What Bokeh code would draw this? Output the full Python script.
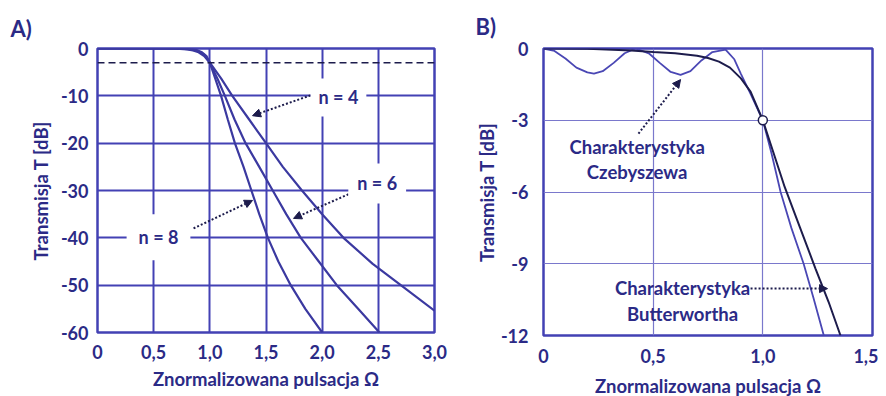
from bokeh.plotting import figure
from bokeh.models import Range1d, Label, Arrow, NormalHead, Span, FixedTicker
from bokeh.layouts import row
from bokeh.embed import file_html
from bokeh.resources import INLINE

# ---------------- data ----------------
# Panel A: Butterworth-type responses
omega_n4 = [0, 0.5, 0.7, 0.8, 0.85, 0.9, 0.95, 1.0, 1.1, 1.2, 1.35, 1.5, 1.65, 1.82, 2.0, 2.19, 2.45, 2.7, 3.0]
db_n4 = [0, 0, -0.05, -0.2, -0.4, -0.8, -1.6, -3, -6.3, -10, -15, -20, -25, -30, -35, -40, -45.5, -50, -55.4]

omega_n6 = [0, 0.6, 0.75, 0.85, 0.9, 0.95, 1.0, 1.07, 1.134, 1.22, 1.318, 1.44, 1.56, 1.68, 1.81, 1.97, 2.13, 2.32, 2.51]
db_n6 = [0, 0, -0.05, -0.25, -0.55, -1.3, -3, -6.5, -10, -15, -20, -25, -30, -35, -40, -45, -50, -55, -60]

omega_n8 = [0, 0.65, 0.8, 0.88, 0.93, 0.97, 1.0, 1.05, 1.1, 1.16, 1.223, 1.3, 1.37, 1.44, 1.517, 1.61, 1.72, 1.85, 2.0]
db_n8 = [0, 0, -0.05, -0.3, -0.8, -1.6, -3, -6.5, -10, -15, -20, -25, -30, -35, -40, -45, -50, -55, -60]

half_power_db = -3

a_xticks = [0, 0.5, 1.0, 1.5, 2.0, 2.5, 3.0]
a_xlabels = ["0", "0,5", "1,0", "1,5", "2,0", "2,5", "3,0"]
a_yticks = [0, -10, -20, -30, -40, -50, -60]
a_ylabels = ["0", "-10", "-20", "-30", "-40", "-50", "-60"]

# Panel B: Chebyshev vs Butterworth
cheb_omega = [0, 0.05, 0.1, 0.15, 0.2, 0.23, 0.27, 0.32, 0.37, 0.42, 0.48, 0.53, 0.58, 0.625, 0.67,
              0.72, 0.77, 0.83, 0.87, 0.9, 0.944, 1.0, 1.04, 1.081, 1.13, 1.186, 1.23, 1.278]
cheb_db = [0, -0.1, -0.42, -0.8, -1.0, -1.05, -0.95, -0.6, -0.2, 0, -0.2, -0.6, -0.98, -1.1, -0.95,
           -0.5, -0.15, -0.05, -0.45, -1.06, -1.9, -3, -4.4, -6, -7.5, -9, -10.4, -12]

butt_omega = [0, 0.2, 0.4, 0.5, 0.6, 0.7, 0.75, 0.8, 0.85, 0.9, 0.944, 1.0, 1.05, 1.1, 1.17, 1.24, 1.3, 1.354]
butt_db = [0, -0.01, -0.08, -0.15, -0.2, -0.3, -0.4, -0.55, -0.8, -1.25, -1.8, -3, -4.4, -5.8, -7.5, -9.2, -10.6, -12]

cutoff_omega = [1.0]
cutoff_db = [-3.0]

b_xticks = [0, 0.5, 1.0, 1.5]
b_xlabels = ["0", "0,5", "1,0", "1,5"]
b_yticks = [0, -3, -6, -9, -12]
b_ylabels = ["0", "-3", "-6", "-9", "-12"]

# ---------------- styling ----------------
FONT = "Lato"
TXT = "#2b2a86"
LINE = "#3b39a0"
GRID_A = "#4341b4"
GRID_B = "#7a78cc"
DARK = "#1d1c4c"


def style_axes(p, xticks, xlabels, yticks, ylabels, xstand, ystand, xlab_st, ylab_st):
    for ax in (p.xaxis[0], p.yaxis[0]):
        ax.axis_line_color = None
        ax.major_tick_line_color = None
        ax.minor_tick_line_color = None
        ax.major_tick_out = 0
        ax.major_tick_in = 0
        ax.minor_tick_out = 0
        ax.minor_tick_in = 0
        ax.major_label_text_font = FONT
        ax.major_label_text_font_style = "bold"
        ax.major_label_text_font_size = "18px"
        ax.major_label_text_color = TXT
        ax.axis_label_text_font = FONT
        ax.axis_label_text_font_style = "bold"
        ax.axis_label_text_font_size = "18.5px"
        ax.axis_label_text_color = TXT
    p.xaxis[0].ticker = FixedTicker(ticks=xticks)
    p.xaxis[0].major_label_overrides = {t: l for t, l in zip(xticks, xlabels)}
    p.yaxis[0].ticker = FixedTicker(ticks=yticks)
    p.yaxis[0].major_label_overrides = {t: l for t, l in zip(yticks, ylabels)}
    p.xaxis[0].major_label_standoff = xstand
    p.yaxis[0].major_label_standoff = ystand
    p.xaxis[0].axis_label_standoff = xlab_st
    p.yaxis[0].axis_label_standoff = ylab_st
    p.xaxis[0].axis_label = "Znormalizowana pulsacja \u03a9"
    p.yaxis[0].axis_label = "Transmisja T [dB]"


def style_title(p, offset, standoff):
    p.title.text_font = FONT
    p.title.text_font_style = "bold"
    p.title.text_font_size = "22px"
    p.title.text_color = TXT
    p.title.align = "left"
    p.title.offset = offset
    p.title.standoff = standoff
    p.title.text_line_height = 0.9


def add_label(p, x, y, text, size="18px", bg=None, pad=0, align="center", lh=1.2):
    kw = {}
    if bg is not None:
        kw["background_fill_color"] = bg
        kw["padding"] = pad
    p.add_layout(Label(x=x, y=y, text=text, text_font=FONT, text_font_style="bold",
                       text_font_size=size, text_color=TXT, text_align=align,
                       text_baseline="middle", text_line_height=lh, **kw))


def add_arrow(p, x0, y0, x1, y1, color=DARK):
    p.add_layout(Arrow(end=NormalHead(size=8, fill_color=color, line_color=color),
                       x_start=x0, y_start=y0, x_end=x1, y_end=y1,
                       line_color=color, line_width=2, line_dash="2 2"))


# ---------------- panel A ----------------
pa = figure(title="A)", frame_width=337, frame_height=284, output_backend="svg", toolbar_location=None,
            x_range=Range1d(0, 3), y_range=Range1d(-60, 0),
            min_border_left=97, min_border_right=14, min_border_top=48, min_border_bottom=60)
pa.background_fill_color = "white"
pa.border_fill_color = "white"
pa.outline_line_color = GRID_A
pa.outline_line_width = 2.5
pa.grid.grid_line_color = GRID_A
pa.grid.grid_line_width = 2
pa.grid.grid_line_alpha = 1
style_axes(pa, a_xticks, a_xlabels, a_yticks, a_ylabels, 12, 9, 6, 6)
style_title(pa, -87, 13)
pa.xgrid[0].ticker = FixedTicker(ticks=a_xticks)
pa.ygrid[0].ticker = FixedTicker(ticks=a_yticks)

pa.add_layout(Span(location=half_power_db, dimension="width", line_color=DARK,
                   line_width=1.5, line_dash="7 4"))

for xs, ys in ((omega_n4, db_n4), (omega_n6, db_n6), (omega_n8, db_n8)):
    pa.line(xs, ys, line_color=LINE, line_width=2.2)

add_arrow(pa, 1.896, -9.9, 1.38, -14.2)
add_arrow(pa, 2.234, -30.8, 1.745, -35.9)
add_arrow(pa, 0.855, -38.0, 1.38, -32.1)
add_label(pa, 2.145, -10.35, "n = 4", bg="white", pad=8)
add_label(pa, 2.49, -28.5, "n = 6", bg="white", pad=9)
add_label(pa, 0.543, -39.9, "n = 8", bg="white", pad=12)

# ---------------- panel B ----------------
pb = figure(title="B)", frame_width=329, frame_height=287, output_backend="svg", toolbar_location=None,
            x_range=Range1d(0, 1.5), y_range=Range1d(-12, 0),
            min_border_left=95, min_border_right=6, min_border_top=48, min_border_bottom=58)
pb.background_fill_color = "white"
pb.border_fill_color = "white"
pb.outline_line_color = GRID_A
pb.outline_line_width = 2.5
pb.grid.grid_line_color = GRID_B
pb.grid.grid_line_width = 1.2
pb.grid.grid_line_alpha = 1
style_axes(pb, b_xticks, b_xlabels, b_yticks, b_ylabels, 13, 15, 9, 0)
style_title(pb, -68, 18)
pb.xgrid[0].ticker = FixedTicker(ticks=b_xticks)
pb.ygrid[0].ticker = FixedTicker(ticks=b_yticks)

pb.line(cheb_omega, cheb_db, line_color="#4a47b4", line_width=1.8)
pb.line(butt_omega, butt_db, line_color=DARK, line_width=2)
pb.scatter(cutoff_omega, cutoff_db, size=9, fill_color="white", line_color=DARK, line_width=1.5)

add_arrow(pb, 0.433, -3.56, 0.625, -1.3)
add_arrow(pb, 0.944, -10.04, 1.295, -10.04)
add_label(pb, 0.427, -4.64, "Charakterystyka\nCzebyszewa", size="18.5px", lh=1.15)
add_label(pb, 0.634, -10.56, "Charakterystyka\nButterwortha", size="18.5px", lh=1.15)

layout = row(pa, pb)
open("out.html", "w").write(file_html(layout, INLINE))
